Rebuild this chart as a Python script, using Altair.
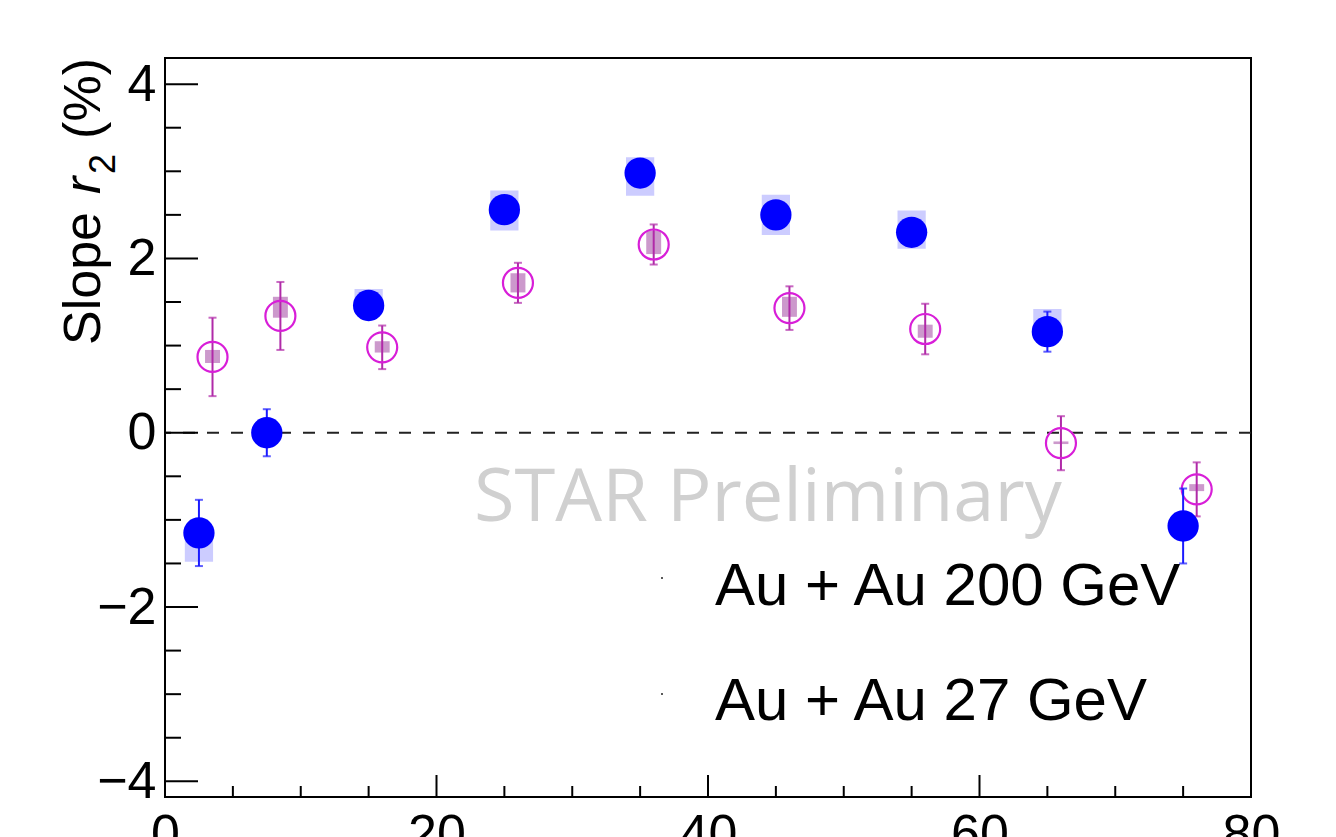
import altair as alt
import pandas as pd

# ---------------- data ----------------
x_200 = [2.5, 7.5, 15, 25, 35, 45, 55, 65, 75]
y_200 = [-1.15, 0.00, 1.46, 2.56, 2.98, 2.50, 2.30, 1.16, -1.07]
stat_200 = [0.38, 0.27, 0.12, 0.12, 0.12, 0.12, 0.12, 0.23, 0.43]
sys_lo_200 = [-1.48, -0.05, 1.40, 2.32, 2.72, 2.27, 2.11, 1.12, -1.12]
sys_hi_200 = [-1.10, 0.05, 1.65, 2.78, 3.16, 2.73, 2.55, 1.42, -1.02]

x_27 = [3.5, 8.5, 16, 26, 36, 46, 56, 66, 76]
y_27 = [0.87, 1.34, 0.98, 1.72, 2.16, 1.43, 1.19, -0.12, -0.65]
stat_27 = [0.45, 0.39, 0.25, 0.23, 0.23, 0.25, 0.29, 0.31, 0.31]
sys_lo_27 = [0.80, 1.32, 0.92, 1.61, 2.05, 1.33, 1.09, -0.13, -0.67]
sys_hi_27 = [0.95, 1.56, 1.05, 1.83, 2.32, 1.56, 1.24, -0.10, -0.59]

y_major = [-4, -2, 0, 2, 4]
y_minor = [-3.5, -3, -2.5, -1.5, -1, -0.5, 0.5, 1, 1.5, 2.5, 3, 3.5]
x_major = [0, 20, 40, 60, 80]
x_minor = [5, 10, 15, 25, 30, 35, 45, 50, 55, 65, 70, 75]

legend_labels = ["Au + Au 200 GeV", "Au + Au 27 GeV"]
watermark = ["STAR Preliminary"]

W, H = 1086, 739
FONT = "Liberation Sans"

d200 = pd.DataFrame({"x": x_200, "y": y_200, "e": stat_200,
                     "slo": sys_lo_200, "shi": sys_hi_200})
d27 = pd.DataFrame({"x": x_27, "y": y_27, "e": stat_27,
                    "slo": sys_lo_27, "shi": sys_hi_27})

xs = alt.Scale(domain=[0, 80], nice=False, zero=False)
ys = alt.Scale(domain=[-4.18, 4.3], nice=False, zero=False)

xaxis = alt.Axis(values=x_major, ticks=False, domain=False, grid=False, title=None,
                 labelFontSize=52, labelFont=FONT, labelColor="black",
                 labelPadding=12, labelFlush=False, labelOverlap=False)
yaxis = alt.Axis(values=y_major, ticks=False, domain=False, grid=False, title=None,
                 labelFontSize=52, labelFont=FONT, labelColor="black",
                 labelPadding=9, labelOverlap=False)


def X(f, axis=True):
    return alt.X(f, type="quantitative", scale=xs, axis=xaxis if axis else None)


def Y(f, axis=True):
    return alt.Y(f, type="quantitative", scale=ys, axis=yaxis if axis else None)


# zero line
zero = alt.Chart(pd.DataFrame({"z": [0]})).mark_rule(
    color="#222222", strokeWidth=2, strokeDash=[12, 12]
).encode(y=Y("z"))

# ticks (inside the frame)
ymaj = alt.Chart(pd.DataFrame({"v": y_major})).mark_rule(color="black", strokeWidth=2).encode(
    y=Y("v"), x=alt.value(0), x2=alt.value(33))
ymin = alt.Chart(pd.DataFrame({"v": y_minor})).mark_rule(color="black", strokeWidth=2).encode(
    y=Y("v"), x=alt.value(0), x2=alt.value(16))
xmaj = alt.Chart(pd.DataFrame({"v": x_major})).mark_rule(color="black", strokeWidth=2).encode(
    x=X("v"), y=alt.value(H), y2=alt.value(H - 22))
xmin = alt.Chart(pd.DataFrame({"v": x_minor})).mark_rule(color="black", strokeWidth=2).encode(
    x=X("v"), y=alt.value(H), y2=alt.value(H - 11))

# systematic boxes
box200 = alt.Chart(d200).transform_calculate(
    xl="datum.x - 1.04", xr="datum.x + 1.04"
).mark_rect(color="#ccccff", opacity=1).encode(
    x=X("xl:Q"), x2="xr:Q", y=Y("slo:Q"), y2="shi:Q")
box27 = alt.Chart(d27).transform_calculate(
    xl="datum.x - 0.55", xr="datum.x + 0.55"
).mark_rect(color="#cc99cc", opacity=1).encode(
    x=X("xl:Q"), x2="xr:Q", y=Y("slo:Q"), y2="shi:Q")

# stat error bars
def errbars(df, color):
    base = alt.Chart(df).transform_calculate(lo="datum.y - datum.e", hi="datum.y + datum.e")
    bar = base.mark_rule(color=color, strokeWidth=2).encode(
        x=X("x:Q"), y=Y("lo:Q"), y2="hi:Q")
    cap_lo = base.mark_tick(color=color, orient="horizontal", size=8, thickness=2).encode(
        x=X("x:Q"), y=Y("lo:Q"))
    cap_hi = base.mark_tick(color=color, orient="horizontal", size=8, thickness=2).encode(
        x=X("x:Q"), y=Y("hi:Q"))
    return bar + cap_lo + cap_hi


err27 = errbars(d27, "#b02aa8")
err200 = errbars(d200, "#1a1aff")

pts27 = alt.Chart(d27).mark_point(shape="circle", filled=False, size=900, strokeWidth=2.2,
                                  color="#d81ed8", opacity=1).encode(x=X("x:Q"), y=Y("y:Q"))
pts200 = alt.Chart(d200).mark_point(shape="circle", filled=True, size=980,
                                    color="#0000ff", opacity=1).encode(x=X("x:Q"), y=Y("y:Q"))

# watermark
wm = alt.Chart(pd.DataFrame({"t": watermark})).mark_text(
    font="Open Sans", fontSize=74, color="#d0d0d0", align="left", baseline="alphabetic"
).encode(text="t:N", x=alt.value(309), y=alt.value(463))

# legend
leg_df = pd.DataFrame({"t": legend_labels, "i": [0, 1]})
leg_text = alt.Chart(leg_df).transform_calculate(py="547 + datum.i * 115").mark_text(
    font=FONT, fontSize=60, color="black", align="left", baseline="alphabetic"
).encode(text="t:N", x=alt.value(550), y=alt.Y("py:Q", scale=None, axis=None))
leg_dot = alt.Chart(leg_df).transform_calculate(py="520 + datum.i * 116").mark_point(
    shape="square", filled=True, size=3, color="black", opacity=1
).encode(x=alt.value(497), y=alt.Y("py:Q", scale=None, axis=None))

# y-axis title: Slope r_2 (%)
t1 = alt.Chart(pd.DataFrame({"t": ["Slope"]})).mark_text(
    font=FONT, fontSize=52, angle=270, align="left", baseline="alphabetic", color="black"
).encode(text="t:N", x=alt.value(-65), y=alt.value(287))
t2 = alt.Chart(pd.DataFrame({"t": ["r"]})).mark_text(
    font=FONT, fontSize=52, fontStyle="italic", angle=270, align="left",
    baseline="alphabetic", color="black"
).encode(text="t:N", x=alt.value(-65), y=alt.value(136))
t3 = alt.Chart(pd.DataFrame({"t": ["2"]})).mark_text(
    font=FONT, fontSize=36, angle=270, align="left", baseline="alphabetic", color="black"
).encode(text="t:N", x=alt.value(-50), y=alt.value(116))
t4 = alt.Chart(pd.DataFrame({"t": ["(%)"]})).mark_text(
    font=FONT, fontSize=52, angle=270, align="right", baseline="alphabetic", color="black"
).encode(text="t:N", x=alt.value(-65), y=alt.value(0))

chart = alt.layer(
    zero, box200, box27, err27, pts27, err200, pts200,
    ymaj, ymin, xmaj, xmin, wm, leg_text, leg_dot, t1, t2, t3, t4
).properties(
    width=W, height=H,
    padding={"left": 165, "top": 58, "right": 85, "bottom": 40},
    autosize=alt.AutoSizeParams(type="none"),
    background="white",
).configure_view(stroke="black", strokeWidth=2)

chart.save("out.html", embed_options={"renderer": "svg", "actions": False})
